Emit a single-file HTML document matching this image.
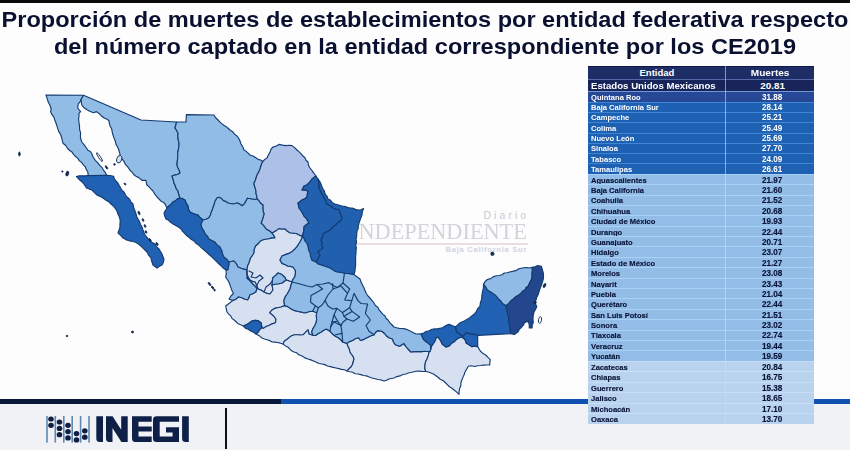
<!DOCTYPE html>
<html lang="es"><head><meta charset="utf-8"><title>Proporción de muertes de establecimientos</title>
<style>
html,body{margin:0;padding:0}
body{width:850px;height:450px;overflow:hidden;background:#fdfdfe;position:relative;font-family:"Liberation Sans",sans-serif}
.topbar{position:absolute;left:0;top:0;width:850px;height:2.6px;background:#0a0a0c}
.title{position:absolute;left:0;top:0;width:850px;color:#0a1030;font-weight:bold;font-size:21.2px;white-space:nowrap}
.title div{position:absolute;left:0;width:850px;text-align:center;transform:scaleX(1.1116);transform-origin:425px 0;line-height:24px}
.map,.logo{position:absolute;left:0;top:0}
.map{filter:blur(0.35px)}
.wm{position:absolute;color:#cfd0d8;white-space:nowrap}
.foot{position:absolute;left:0;top:403.7px;width:850px;height:46.5px;background:#f0f2f6}
.bar1{position:absolute;left:0;top:398.9px;width:282px;height:4.8px;background:#08183a}
.bar2{position:absolute;left:281px;top:398.9px;width:569px;height:4.8px;background:#1151b0}
.vline{position:absolute;left:225.1px;top:407.7px;width:1.6px;height:40.9px;background:#0c0e18}
.tbl{position:absolute;left:0;top:0}
.r{position:absolute;left:588.2px;width:225.79999999999995px;font-weight:bold;white-space:nowrap;overflow:hidden}
.r span{position:absolute;display:block;line-height:10px;height:10px}
.c1{left:2.8px;width:134.7px;transform:scaleX(0.972);transform-origin:0 0}
.c1.ctr{left:0;width:137.5px;text-align:center;transform:none}
.c2{left:139.7px;width:88.29999999999995px;text-align:center;transform:scaleX(0.98)}
.hd .c2{left:138.1px;transform:scaleX(1.06)}
.eum .c1{transform:scaleX(0.975)}
.eum .c2{left:140.2px;transform:none}
.hd{background:linear-gradient(#0c1848 0,#0c1848 1px,#1e2d66 1px);color:#fff}
.eum{background:linear-gradient(#5268a8 0,#5268a8 1px,#17245a 1px);color:#fff}
.d{background:linear-gradient(#3d86d6 0,#3d86d6 1px,#1e60b2 1px);color:#fff}
.d0{background:linear-gradient(#7896d2 0,#7896d2 1px,#264896 1px)}
.m{background:linear-gradient(#a8d2f5 0,#a8d2f5 1.2px,#93bde6 1.2px);color:#0a1338;-webkit-text-stroke:0.15px #0a1338}
.l{background:linear-gradient(#c6defa 0,#c6defa 1.2px,#b9d3ef 1.2px);color:#0a1338;-webkit-text-stroke:0.15px #0a1338}
.vdiv{position:absolute;left:725.0px;top:66px;width:1.4px;height:357.8px;background:rgba(190,225,255,.6)}
</style></head><body>
<div class="wm" style="left:483.5px;top:209.6px;font-size:10.4px;letter-spacing:3.1px;color:#c9cad2">Diario</div>
<div class="wm" style="left:351px;top:218.8px;font-family:'Liberation Serif',serif;font-size:22.8px;transform:scaleX(0.978);transform-origin:0 0;color:#d3d3da">INDEPENDIENTE</div>
<div class="wm" style="left:356px;top:243.2px;width:171.5px;height:1.5px;background:#eddce1"></div>
<div class="wm" style="left:445.5px;top:245px;font-size:7.6px;font-weight:bold;letter-spacing:0.72px;color:#d0d4de">Baja California Sur</div>
<svg class="map" width="850" height="450" viewBox="0 0 850 450">
<g stroke="#143c72" stroke-width="1.15" stroke-linejoin="round">
<polygon fill="#90bce6" points="45.9,95.1 83.6,95.3 81.2,99.2 80.1,101.77 78.3,103.9 77.7,108 80.6,111.6 78.9,113.3 79.05,115.97 78.6,118.6 78.91,122.17 79.5,125.7 79.56,129.33 80.6,132.8 80.47,135.4 80.5,138 81.8,142 84.24,144.93 86.5,148 87.88,150.29 90.4,151.53 91.8,153.8 93.2,157.24 95.3,160.3 97.82,162.8 100,165.6 102.11,167.71 103.6,170.3 105.41,172.54 106.5,175.2 88.3,175.6 87.7,171.5 86.18,169.31 85.3,166.8 83.39,164.77 81.69,162.55 79.4,160.9 77.82,158.42 75.59,156.52 73.6,154.4 71.99,152.07 69.66,150.47 67.7,148.5 65.71,145.53 63,143.2 62.4,141 61.64,137.71 60.6,134.5 58.8,131.6 57.61,128.06 56.5,124.5 54.7,119.8 53.75,116.86 51.82,114.41 50.6,111.6 51.2,109.2 50.05,105.5 48.2,102.1 47.23,98.54"/>
<polygon fill="#2161b3" points="88.3,175.6 106.5,175.2 110.08,175.47 113.6,176.2 114.33,178.84 116,181 117.92,183.1 119.21,185.62 120.7,188 122.04,190.41 124.16,192.28 125.43,194.74 127,197 129.38,199 130.86,201.79 133,204 133.72,207.58 135,211 135.92,213.69 136.61,216.48 138,219 139.52,221.58 140.47,224.43 142,227 142.9,229.7 143.92,232.36 145,235 147.04,237.47 149,240 151.79,242.31 155,244 156.62,246.81 159,249 160.52,251.49 162,254 162.83,256.57 164,259 163.46,262.15 162,265 159.39,266.31 157,268 153,265 151.76,261.57 151,258 148.66,255.23 147,252 144.98,250.02 142.94,248.06 141,246 138.16,243.77 135,242 131.95,241.51 129,240.6 125.87,239.6 123,238 120.66,235.34 118,233 119.05,230.02 120,227 119.91,224.33 120.2,221.67 120,219 119.07,216.31 117.81,213.74 117,211 115.25,208.46 113.37,206.02 111,204 108.62,201.62 105.64,200.04 103,198 100.06,196.37 97,195 94.39,192.61 92,190 89.22,189.08 86.5,188 84.2,184.5 82.35,182.15 80,180.3 76.5,176.5 79.21,175.81 82,175.8 85.16,175.91"/>
<polygon fill="#90bce6" points="83.6,95.3 141,120 176.5,122 175.84,125.02 175,128 176.63,130.42 178,133 177.91,136.38 178.17,139.72 179,143 178.91,146.39 178.42,149.72 177.6,153 177.74,156.01 177.59,159.01 177.17,162 177,165 177.91,167.7 179.24,170.24 180,173 177.52,174.51 174.7,175.08 172,176 173.14,179.46 174,183 175.27,185.7 176.22,188.56 178,191 178.8,194.56 180,198 177.42,198.91 175.43,200.83 173,202 171.09,204.09 169.01,206.01 167,208 165,204 163.16,202.15 160.74,200.97 159,199 156.72,196.54 154.66,193.92 153,191 150.83,188.87 148.77,186.63 146.6,184.5 146,180.3 141.9,180.3 139.21,177.87 136,176.2 133.71,174.52 132.08,172.18 130,170.3 127.92,167.18 125.4,164.4 123.95,161.28 121.8,158.6 120.38,155.76 119.5,152.7 118.78,149.74 117.55,147 116,144.4 115.35,141.16 114.04,138.12 113,135 112.4,132.8 111.7,129.08 110,125.7 109.27,123.09 108.9,120.4 106.61,119.09 104.2,118 101.2,115.7 99.01,113.47 96.5,111.6 93.6,112.7 90.16,111.57 87,109.8 84.03,107.8 81.8,105 81.34,102.12 81.2,99.2"/>
<polygon fill="#90bce6" points="176.5,122 186,122 186.4,114.6 214,115 215.66,117.77 218,120 219.8,121.9 221.74,123.65 223.79,125.25 226.08,126.58 228.07,128.25 230,130 232.62,131.67 234.57,134.11 237,136 238.76,138.45 240.09,141.12 241,144 242.79,146.86 244,150 246.24,151.38 248.11,153.2 250,155 252.9,156.04 255.6,157.45 258,159.4 260.64,160.04 263,161.4 261.63,163.79 260.8,166.39 260,169 258.74,172.12 257,175 256.14,177.72 255.34,180.46 254,183 254.38,185.74 255.3,188.34 256,191 256.03,193.7 256.85,196.31 257,199 254.3,199.5 251.6,199 247.4,198.2 245.88,201.35 244,204.3 242,205.8 239.89,204.18 237.5,203 232.7,204 228,203 225.76,201.58 223.3,200.6 221.47,198.54 219,197.3 217,198 215.02,201.3 214,205 212.98,207.45 212.27,210.01 211.09,212.4 210.5,215 208.7,218 205.94,219.25 203,220 200.25,217.75 198,215 195.22,214.32 192.53,213.36 190,212 188.49,209.17 188,206 186.19,203.15 185,200 182.61,198.72 180,198 178.8,194.56 178,191 176.22,188.56 175.27,185.7 174,183 173.14,179.46 172,176 174.7,175.08 177.52,174.51 180,173 179.24,170.24 177.91,167.7 177,165 177.17,162 177.59,159.01 177.74,156.01 177.6,153 178.42,149.72 178.91,146.39 179,143 178.17,139.72 177.91,136.38 178,133 176.63,130.42 175,128 175.84,125.02"/>
<polygon fill="#adc0e8" points="263,161.4 264.72,159.37 267,158 268.37,154.93 270,152 271.05,149.23 273,147 276.16,146.08 279,144.4 282.48,145.12 286,145.6 289,145.21 292,145.6 294.68,147.6 297,150 299.12,151.88 301.11,153.89 303,156 304.99,157.73 306.04,160.25 308,162 308.49,165.17 310,168 312.03,170.64 314.01,173.32 316,176 312,179 309,183 306.77,184.94 304,186 302,190 305.05,190.17 308,191 307.32,193.97 307,197 304.93,198.76 302.3,199.71 300.24,201.48 298,203 299,208 300.9,210.52 302.6,213.17 304,216 306.03,218.07 307.48,220.56 309,223 306.21,224.64 304,227 303.83,230.55 303,234 302.5,236.4 299.18,235.1 296,233.5 293,233.23 290,233 287.27,231.29 285,229 281.97,229.24 279,228.6 276.58,230.41 274,232 272,233 269.18,230.73 266,229 264.59,226.79 262.9,224.81 261,223 262.29,220.1 263.14,217.05 264,214 263.17,211.06 262.8,208.06 263,205 260.66,203.34 259.04,200.96 257,199 256.85,196.31 256.03,193.7 256,191 255.3,188.34 254.38,185.74 254,183 255.34,180.46 256.14,177.72 257,175 258.74,172.12 260,169 260.8,166.39 261.63,163.79"/>
<polygon fill="#2060ae" points="316,176 318,179 318.61,181.73 319.11,184.48 319.02,187.34 320,190 321.11,192.78 322.99,195.17 324,198 325.87,200.82 327,204 330.21,205.68 333,208 335.9,209.13 339,209.4 339.68,212.31 341,215 342,219 340.28,221.28 337.75,222.75 336,225 333.66,226.26 331.89,228.2 330,230 327.75,231.48 325.31,232.62 323,234 322.39,237.13 321,240 322.19,242.54 321.83,245.46 323,248 320.4,249.87 318,252 320,255 318.47,257.99 317,261 316,262 312,260.5 310.65,256.84 310,253 308.61,249.96 308.07,246.64 307,243.5 305.09,241.25 304,238.5 302.5,236.4 303,234 303.83,230.55 304,227 306.21,224.64 309,223 307.48,220.56 306.03,218.07 304,216 302.6,213.17 300.9,210.52 299,208 298,203 300.24,201.48 302.3,199.71 304.93,198.76 307,197 307.32,193.97 308,191 305.05,190.17 302,190 304,186 306.77,184.94 309,183 312,179"/>
<polygon fill="#2060ae" points="318,179 319.66,181.3 320.89,183.8 321.9,186.42 323,189 324.48,191.38 325.18,194.16 327.08,196.33 328,199 330.64,200.24 332.38,202.74 335,204 338.49,205.03 342,206 344.76,206.29 347.32,207.38 350,208 352.79,208.16 355.33,209.36 358,210 360.94,209.71 363.6,208.4 362.35,211.59 362,215 361,217.67 359.97,220.32 359,223 358.31,225.66 358.18,228.46 357,231 356.73,233.67 356.68,236.38 356,239 356.55,242 355.67,245 356.36,248 356,251 355.93,254 355.55,256.99 355.64,260 355.6,263 355.59,265.68 355.18,268.33 355,271 354,274.6 349,273.6 344.5,273.2 340.76,272.51 337,272 334.45,271.05 332.29,269.41 330,268 327.01,266.96 324,266 321.05,264.85 318,264 316,262 317,261 318.47,257.99 320,255 318,252 320.4,249.87 323,248 321.83,245.46 322.19,242.54 321,240 322.39,237.13 323,234 325.31,232.62 327.75,231.48 330,230 331.89,228.2 333.66,226.26 336,225 337.75,222.75 340.28,221.28 342,219 341,215 339.68,212.31 339,209.4 335.9,209.13 333,208 330.21,205.68 327,204 325.87,200.82 324,198 322.99,195.17 321.11,192.78 320,190 319.02,187.34 319.11,184.48 318.61,181.73"/>
<polygon fill="#2161b3" points="167,208 169.01,206.01 171.09,204.09 173,202 175.43,200.83 177.42,198.91 180,198 182.61,198.72 185,200 186.19,203.15 188,206 188.49,209.17 190,212 192.53,213.36 195.22,214.32 198,215 200.25,217.75 203,220 201.8,222.42 201,225 202.13,228.19 204,231 205.25,233.92 207.56,236.19 209,239 211.97,240.56 215,242 217.16,244.84 220,247 222,251 222.65,254.12 224,257 226.78,259.22 229,262 229.08,264.72 228.4,267.34 228,270 226,270 223.35,268.37 221.35,265.98 219,264 216.64,261.69 214.37,259.3 212,257 209.61,255.16 207.49,253.01 205.25,251 203,249 200.67,247.09 198.54,244.95 195.95,243.34 194,241 191.16,239.23 188.63,237.05 186,235 184.33,233.01 182.44,231.19 181,229 178.46,227.13 175.81,225.43 173,224 170.63,222.39 168.59,220.31 166,219 164.7,216.1 164,213 165.45,210.47"/>
<polygon fill="#90bce6" points="203,220 205.94,219.25 208.7,218 210.5,215 211.09,212.4 212.27,210.01 212.98,207.45 214,205 215.02,201.3 217,198 219,197.3 221.47,198.54 223.3,200.6 225.76,201.58 228,203 232.7,204 237.5,203 239.89,204.18 242,205.8 244,204.3 245.88,201.35 247.4,198.2 251.6,199 254.3,199.5 257,199 259.04,200.96 260.66,203.34 263,205 262.8,208.06 263.17,211.06 264,214 263.14,217.05 262.29,220.1 261,223 262.9,224.81 264.59,226.79 266,229 269.18,230.73 272,233 273.84,235.3 275,238 271.44,238.08 268,239 264.12,239.5 260.5,241 258.27,243.72 255.6,246 254.31,249.39 254,253 252.39,255.56 250.6,258 249.81,260.5 249,263 247.48,266.35 247,270 243.94,269.17 240.92,268.23 238,267 236.32,263.79 234,261 229,262 226.78,259.22 224,257 222.65,254.12 222,251 220,247 217.16,244.84 215,242 211.97,240.56 209,239 207.56,236.19 205.25,233.92 204,231 202.13,228.19 201,225 201.8,222.42"/>
<polygon fill="#8fbbe6" points="229,262 234,261 236.32,263.79 238,267 240.92,268.23 243.94,269.17 247,270 246.63,272.67 247.37,275.33 247,278 249.55,280.45 252,283 254.49,285.51 257,288 256,292 252.98,293.66 249.8,295 249.06,297.63 247.7,300 244.57,299.19 241.64,297.77 238.5,297 235.93,299.25 232.8,300.6 229,299 230.91,295.97 233.5,293.5 232.04,290.79 230.99,287.9 230,285 228.94,282.11 227.32,279.53 225.6,277 226.27,273.53 226,270 228,270 228.4,267.34 229.08,264.72"/>
<polygon fill="#d7e0f1" points="272,233 274,232 276.58,230.41 279,228.6 281.97,229.24 285,229 287.27,231.29 290,233 293,233.23 296,233.5 299.18,235.1 302.5,236.4 301.62,238.91 300.41,241.25 299,243.5 297.18,246.38 295,249 292.17,251.43 289,253.4 285.47,254.61 282,256 280,260 282,263.4 284.91,264.46 287.6,266 290.32,266.41 293,267 295.4,270.5 295.45,273.79 294.7,277 292.95,279.29 292,282 289.03,280.92 286,280 284.9,277.48 283,275.5 280.7,273.85 278,273 275.45,275.66 272.6,278 272.38,281.51 272,285 273,290 270,294 266.85,293.44 264,292 261.17,290.16 258,289 256.74,285.4 255,282 252.37,281.33 250,280 248.1,277.2 247,274 247,270 247.48,266.35 249,263 249.81,260.5 250.6,258 252.39,255.56 254,253 254.31,249.39 255.6,246 258.27,243.72 260.5,241 264.12,239.5 268,239 271.44,238.08 275,238 273.84,235.3"/>
<polygon fill="#d7e0f1" points="247,270 247,274 248.1,277.2 250,280 252.37,281.33 255,282 256.74,285.4 258,289 261.17,290.16 264,292 266.85,293.44 270,294 273,290 272,285 276,284 279.03,283.7 282,283 286,280 289.03,280.92 292,282 290.92,285.48 290,289 287.5,293.5 285.39,296.56 284,300 284.1,302.83 284.7,305.6 281.24,306.99 277.6,307.8 274.61,308.43 272,310 269.8,312.7 273.3,315.6 276,319 275.5,322.7 272.15,323.86 269,325.5 266,326.56 263.4,328.4 262,327.7 261,322.7 257.7,320.6 254.82,320.32 252,321 249.86,322.51 247.7,324 243.4,326 240.54,324.82 237.8,323.4 235.02,320.76 232,318.4 230.75,315.94 228.72,314.09 227,312 226.29,309.01 225.7,306 229,303.5 232.8,300.6 235.93,299.25 238.5,297 241.64,297.77 244.57,299.19 247.7,300 249.06,297.63 249.8,295 252.98,293.66 256,292 257,288 254.49,285.51 252,283 249.55,280.45 247,278 247.37,275.33 246.63,272.67"/>
<polygon fill="#8fbbe6" points="272,285 272.38,281.51 272.6,278 275.45,275.66 278,273 280.7,273.85 283,275.5 284.9,277.48 286,280 282,283 279.03,283.7 276,284"/>
<polygon fill="#2161b3" points="243.4,326 247.7,324 249.86,322.51 252,321 254.82,320.32 257.7,320.6 261,322.7 262,327.7 259.79,329.51 258.4,332 256,334 253.45,332.22 250.6,331 248.34,329.24 245.6,328.4"/>
<polygon fill="#d7e0f1" points="262,327.7 263.4,328.4 266,326.56 269,325.5 272.15,323.86 275.5,322.7 276,319 273.3,315.6 269.8,312.7 272,310 274.61,308.43 277.6,307.8 281.24,306.99 284.7,305.6 287.76,306.63 290.4,308.5 293.77,310.35 297.5,311.3 300.31,311.91 303.11,312.56 306,312.7 309.41,311.55 313,311.3 316.7,312.7 316.31,315.85 316.7,319 316.11,322.64 314.6,326 312.79,328.83 311.7,332 313,335.5 309,334 308,329.8 305.54,332.34 303,334.8 300.23,334.98 297.47,334.74 294.7,334.8 291.64,335.78 289,337.6 286.9,339.5 284.5,341 283,344 280.31,343.18 277.59,342.51 274.82,342.13 272,342 269.66,340.6 267.11,339.73 264.49,339.03 262,338 259.23,335.66 256,334 258.4,332 259.79,329.51"/>
<polygon fill="#d7e0f1" points="283,344 284.5,341 286.9,339.5 289,337.6 291.64,335.78 294.7,334.8 297.47,334.74 300.23,334.98 303,334.8 305.54,332.34 308,329.8 309,334 313,335.5 315.6,335.5 318.34,333.57 321.3,332 323.69,330.32 326.3,329 330,331.3 333.4,334.8 335.76,336.5 338.4,337.7 340.71,339.69 342.7,342 347,343.4 348,346.27 349.33,349.02 350,352 351.48,354.25 353.13,356.4 354,359 353.26,361.76 352.5,364.52 351,367 348.82,368.82 347,371 344.38,369.78 341.54,369.34 338.78,368.65 336,368 333.16,367.34 330.34,366.62 327.5,365.95 324.85,364.63 322,364 319.02,363.5 316.33,362.19 313.6,361.01 310.84,359.89 308,359 305.5,358.16 303.34,356.66 301.03,355.43 298.51,354.65 296.53,352.78 294,352 291.52,350.79 289.62,348.78 287.6,346.92 285.17,345.65"/>
<polygon fill="#d7e0f1" points="347,371 348.82,368.82 351,367 352.5,364.52 353.26,361.76 354,359 353.13,356.4 351.48,354.25 350,352 349.33,349.02 348,346.27 347,343.4 349.61,341.59 352.6,340.5 355.24,338.68 358.3,337.7 360.5,340.5 363.81,339.34 366.9,337.7 370.35,336 374,334.8 375.47,332.46 377.5,330.6 381.8,331.3 384.62,333.48 386.8,336.3 389.49,337.99 392.5,339 393.53,342.08 395.3,344.8 399.6,346.2 403.8,343.4 405.75,346.31 408,349 411,352 413.71,351.69 416.42,351.57 419.14,351.56 421.86,351.67 424.56,351.27 427.28,351.51 430,351.5 429,352.3 428.25,355.72 427,359 425.52,361.84 425,365 424.83,368.31 425.7,371.5 421.84,371.34 418,371 414.93,371.46 411.95,372.29 408.87,372.74 406,374 402.84,374.52 399.97,375.9 396.86,376.57 394,378 391.43,378.5 388.84,378.98 386.5,380.25 384,381 381.08,379.93 378,379.5 375.01,378.72 372,378 369.24,377.07 366.55,375.87 363.64,375.45 360.86,374.6 358,374 355.12,373.74 352.57,372.23 349.74,371.8"/>
<polygon fill="#d7e0f1" points="425.7,371.5 424.83,368.31 425,365 425.52,361.84 427,359 428.25,355.72 429,352.3 430,351.5 430.8,349 431,347 432.9,344.2 435.3,340.5 436.2,337.2 438.1,337.2 440.5,340.5 442.4,344.2 446.1,347 449,346.1 451.47,343.35 454.6,341.4 456.7,339.19 459.3,337.6 462.2,337.2 465,339.5 466.4,343.3 469.08,344.82 471.6,346.6 474.65,346.17 477.7,346.6 480.3,351 482.78,353.3 485.7,355 487.95,357.4 490.3,359.7 489.86,362.33 489.7,365 486.69,365.04 483.69,365.15 480.7,365.54 477.7,365.7 474.6,366.45 471.41,365.77 468.3,366.3 466.3,369.7 464.9,372.24 464,375 462.81,377.63 461.7,380.3 460.86,382.92 460.83,385.75 459.7,388.3 459.09,391.27 459,394.3 456.43,391.9 453.7,389.7 451.7,388.02 449.36,386.75 447.53,384.88 445.7,383 443.23,380.74 440.22,379.2 437.7,377 435.6,375.45 433.47,373.93 431,373 428.42,371.99"/>
<polygon fill="#8fbbe6" points="292,282 292.95,279.29 294.7,277 295.45,273.79 295.4,270.5 293,267 290.32,266.41 287.6,266 284.91,264.46 282,263.4 280,260 282,256 285.47,254.61 289,253.4 292.17,251.43 295,249 297.18,246.38 299,243.5 300.41,241.25 301.62,238.91 302.5,236.4 304,238.5 305.09,241.25 307,243.5 308.07,246.64 308.61,249.96 310,253 310.65,256.84 312,260.5 316,262 318,264 321.05,264.85 324,266 327.01,266.96 330,268 332.29,269.41 334.45,271.05 337,272 340.76,272.51 344.5,273.2 349,273.6 354,274.6 356.98,276.83 360,279 361.08,282.11 362.51,285.07 364,288 365.12,290.77 366.29,293.52 368,296 370.09,298.25 372.15,300.54 374,303 375.33,305.58 377.8,307.26 379.06,309.9 381,312 382.63,314.1 384.88,315.67 385.97,318.24 388,320 389.67,322.61 391.89,324.76 394,327 396.62,327.75 399.27,328.34 402,328.5 405.1,328.87 408,330 410.65,331.36 413.33,332.67 416,334 421.1,333.9 423,338.6 424.91,340.78 427.3,342.4 430.6,345.2 430.8,349 430,351.5 427.28,351.51 424.56,351.27 421.86,351.67 419.14,351.56 416.42,351.57 413.71,351.69 411,352 408,349 405.75,346.31 403.8,343.4 399.6,346.2 395.3,344.8 393.53,342.08 392.5,339 389.49,337.99 386.8,336.3 384.62,333.48 381.8,331.3 377.5,330.6 375.47,332.46 374,334.8 370.35,336 366.9,337.7 363.81,339.34 360.5,340.5 358.3,337.7 355.24,338.68 352.6,340.5 349.61,341.59 347,343.4 342.7,342 340.71,339.69 338.4,337.7 335.76,336.5 333.4,334.8 330,331.3 326.3,329 323.69,330.32 321.3,332 318.34,333.57 315.6,335.5 313,335.5 311.7,332 312.79,328.83 314.6,326 316.11,322.64 316.7,319 316.31,315.85 316.7,312.7 313,311.3 309.41,311.55 306,312.7 303.11,312.56 300.31,311.91 297.5,311.3 293.77,310.35 290.4,308.5 287.76,306.63 284.7,305.6 284.1,302.83 284,300 285.39,296.56 287.5,293.5 290,289 290.92,285.48"/>
<polygon fill="#2161b3" points="421.1,333.9 423.7,333 426,331.5 429.13,330.69 432,329.2 434.61,328.92 437.26,328.88 439.83,328.27 442.4,327.7 446.1,325.4 449,324.4 452.7,325.8 455.6,326.8 456.5,331.5 459.3,333.9 463.1,336.2 465.9,332.5 468.7,333.41 471.6,333.9 474.72,334.31 477.7,335.3 477.7,346.6 474.65,346.17 471.6,346.6 469.08,344.82 466.4,343.3 465,339.5 462.2,337.2 459.3,337.6 456.7,339.19 454.6,341.4 451.47,343.35 449,346.1 446.1,347 442.4,344.2 440.5,340.5 438.1,337.2 436.2,337.2 435.3,340.5 432.9,344.2 431,347 430.8,349 430.6,345.2 427.3,342.4 424.91,340.78 423,338.6"/>
<polygon fill="#2161b3" points="455.6,326.8 459.3,323.3 461.79,322.05 464.39,321.01 466.8,319.6 469.48,317.97 471.88,315.97 474.3,314 476.29,311.59 477.66,308.72 479.9,306.5 480.42,302.66 481.7,299 481.88,295.27 482.6,291.6 483.37,287.89 483.6,284.1 485.63,286.78 487.3,289.7 490.06,291.61 492.9,293.4 495.15,294.89 496.98,296.79 498.5,299 500.55,300.69 502.1,302.87 504.1,304.6 506,305.6 506.39,308.44 507.01,311.24 507.8,314 508.53,317.06 508.78,320.2 509.3,323.3 509.77,326.73 510.2,330.16 510.6,333.6 478,335.4 477.7,335.3 474.72,334.31 471.6,333.9 468.7,333.41 465.9,332.5 463.1,336.2 459.3,333.9 456.5,331.5"/>
<polygon fill="#8fbbe6" points="483.6,284.1 485.12,281.54 487.3,279.5 490.56,278.63 493.37,276.66 496.6,275.7 499.36,275.47 501.97,274.68 504.32,272.97 507.07,272.7 509.7,272 512.61,271.41 515.46,270.64 518.08,269.17 520.9,268.3 523.68,267.8 526.47,267.48 529.34,268.04 532.1,267.3 532.42,270.43 532.01,273.57 532.1,276.7 531.23,279.95 529.61,282.89 528.4,286 526.18,287.5 524.93,289.99 522.53,291.3 520.9,293.4 518.39,295.26 515.65,296.79 513.4,299 510.78,301.03 508.66,303.62 506,305.6 504.1,304.6 502.1,302.87 500.55,300.69 498.5,299 496.98,296.79 495.15,294.89 492.9,293.4 490.06,291.61 487.3,289.7 485.63,286.78"/>
<polygon fill="#24468c" points="532.1,267.3 535.03,266.82 537.7,265.5 541.4,266.4 542.36,269.65 543.3,272.9 543.52,276.08 543.24,279.22 542.4,282.3 541.48,284.77 540.58,287.25 539.6,289.7 538.87,292.28 538.1,294.84 536.8,297.2 536.01,300.06 534.9,302.8 536.8,306.5 535.58,309.34 534,312 533.13,315.75 533,319.6 533.24,322.46 532.13,325.17 532.1,328 529.3,328 529.22,324.65 528.4,321.4 524.6,322.4 523.56,324.92 521.8,327 519.58,329.06 518.1,331.7 514.4,334.5 510.6,333.6 510.2,330.16 509.77,326.73 509.3,323.3 508.78,320.2 508.53,317.06 507.8,314 507.01,311.24 506.39,308.44 506,305.6 508.66,303.62 510.78,301.03 513.4,299 515.65,296.79 518.39,295.26 520.9,293.4 522.53,291.3 524.93,289.99 526.18,287.5 528.4,286 529.61,282.89 531.23,279.95 532.1,276.7 532.01,273.57 532.42,270.43"/>
</g>
<g fill="none" stroke="#143c72" stroke-width="1.15" stroke-linejoin="round" stroke-linecap="round">
<polyline points="292,282 300,284 307,286 312,287 317,284.5 323,284 329,282.6 333,285.5 337.4,287.6 343,283 344.5,273.2"/>
<polyline points="317,284.5 322.6,289 311,295.6 310.5,302 315.5,306 312.7,311"/>
<polyline points="332.6,283.5 333,289 328,295 325,300.6 322,305 318.4,307.7 315.5,306"/>
<polyline points="318.4,307.7 316.7,312.7"/>
<polyline points="333,289 341,286 347.5,293.4 344.7,300 351.8,300.6 349.7,307.7 342.5,312.6 336.9,308.4 332.6,309 328,306 325,300.6"/>
<polyline points="343,283 349.7,289 347.5,293.4"/>
<polyline points="351.8,300.6 354,293.4 358,300.6 361,303.5 367.6,304 365.4,313.5 370.4,320 366,325.6 369,331.3 374,334.8"/>
<polyline points="344,316.3 352,311.4 359.7,317 353.3,321.3 347,319 344,316.3"/>
<polyline points="334,315 337.7,321.3 332,322 334,315"/>
<polyline points="330.6,327 334,322 341,325.6 342,333.4 335.6,334.8"/>
<polyline points="330.6,327 330,331.3"/>
<polyline points="342.5,312.6 344,316.3"/>
<polyline points="349.7,307.7 352,311.4"/>
<polyline points="347,319 343,322 341,325.6"/>
<polyline points="342,333.4 342.7,342"/>
<polyline points="336.9,308.4 334,315"/>
<polyline points="332,322 330.6,327"/>
<polyline points="337.7,321.3 341,325.6"/>
<polyline points="249,271 253,273 251,277 256,278 260,275 263,278 259,281 257,285"/>
<polyline points="264,292 266,287 270,284 272,281"/>
</g>
<g stroke="#0e2a55" stroke-width="0.85">
<ellipse cx="119.2" cy="159.2" rx="2.5" ry="3.9" fill="#cfe0f3" transform="rotate(20 119.2 159.2)"/>
<ellipse cx="99.5" cy="157.1" rx="1.0" ry="5.1" fill="#e8f0fa" transform="rotate(-34 99.5 157.1)"/>
<ellipse cx="106.5" cy="167.4" rx="0.7" ry="1.9" fill="#1a2440" transform="rotate(-32 106.5 167.4)"/>
<ellipse cx="114.5" cy="164.4" rx="0.8" ry="0.8" fill="#1a2440" transform="rotate(0 114.5 164.4)"/>
<ellipse cx="67.3" cy="173.6" rx="1.3" ry="2.5" fill="#1a2440" transform="rotate(15 67.3 173.6)"/>
<ellipse cx="19.4" cy="154" rx="0.8" ry="2.0" fill="#1a2440" transform="rotate(0 19.4 154)"/>
<ellipse cx="540" cy="320" rx="1.5" ry="3.4" fill="#ffffff" transform="rotate(10 540 320)"/>
<ellipse cx="544.5" cy="285.5" rx="1.0" ry="2.2" fill="#1a2440" transform="rotate(25 544.5 285.5)"/>
<ellipse cx="535" cy="302.5" rx="1.3" ry="1.3" fill="#1a2440" transform="rotate(0 535 302.5)"/>
<ellipse cx="492.4" cy="253.8" rx="1.6" ry="1.8" fill="#1a2440" transform="rotate(0 492.4 253.8)"/>
<ellipse cx="139" cy="213" rx="0.8" ry="1.8" fill="#1a2440" transform="rotate(-20 139 213)"/>
<ellipse cx="143" cy="220" rx="0.7" ry="1.4" fill="#1a2440" transform="rotate(-20 143 220)"/>
<ellipse cx="145" cy="226" rx="0.7" ry="1.4" fill="#1a2440" transform="rotate(-20 145 226)"/>
<ellipse cx="146" cy="232" rx="0.7" ry="1.3" fill="#1a2440" transform="rotate(-20 146 232)"/>
<ellipse cx="150" cy="240" rx="0.8" ry="1.6" fill="#1a2440" transform="rotate(-30 150 240)"/>
<ellipse cx="157" cy="244" rx="0.8" ry="1.6" fill="#1a2440" transform="rotate(-30 157 244)"/>
<ellipse cx="209.5" cy="284" rx="0.8" ry="1.8" fill="#1a2440" transform="rotate(-40 209.5 284)"/>
<ellipse cx="212.5" cy="287.5" rx="0.8" ry="1.5" fill="#1a2440" transform="rotate(-40 212.5 287.5)"/>
<ellipse cx="214.5" cy="290" rx="0.7" ry="1.0" fill="#1a2440" transform="rotate(-40 214.5 290)"/>
<ellipse cx="125" cy="184" rx="0.6" ry="1.2" fill="#1a2440" transform="rotate(-30 125 184)"/>
<ellipse cx="62.4" cy="171.5" rx="0.6" ry="0.7" fill="#1a2440" transform="rotate(0 62.4 171.5)"/>
<ellipse cx="67" cy="336" rx="0.8" ry="0.8" fill="#1a2440" transform="rotate(0 67 336)"/>
<ellipse cx="132.5" cy="332" rx="1.1" ry="0.9" fill="#1a2440" transform="rotate(0 132.5 332)"/>
</g>
</svg>
<div class="topbar"></div>
<div class="title"><div style="top:8.3px">Proporción de muertes de establecimientos por entidad federativa respecto</div><div style="top:34.6px">del número captado en la entidad correspondiente por los CE2019</div></div>
<div class="foot"></div><div class="bar1"></div><div class="bar2"></div><div class="vline"></div>
<svg class="logo" width="850" height="450" viewBox="0 0 850 450">
<rect x="46.2" y="416" width="1.6" height="26.6" fill="#5f88b2"/>
<rect x="54.5" y="416" width="1.6" height="26.6" fill="#5f88b2"/>
<rect x="63.0" y="416" width="1.6" height="26.6" fill="#5f88b2"/>
<rect x="71.4" y="416" width="1.6" height="26.6" fill="#5f88b2"/>
<rect x="79.8" y="416" width="1.6" height="26.6" fill="#5f88b2"/>
<rect x="88.2" y="416" width="1.6" height="26.6" fill="#5f88b2"/>
<ellipse cx="51" cy="419" rx="2.8" ry="2.6" fill="#111e44"/>
<ellipse cx="51" cy="425.3" rx="2.8" ry="2.6" fill="#111e44"/>
<ellipse cx="59.5" cy="422" rx="2.8" ry="2.6" fill="#111e44"/>
<ellipse cx="59.5" cy="428.4" rx="2.8" ry="2.6" fill="#111e44"/>
<ellipse cx="59.5" cy="434.7" rx="2.8" ry="2.6" fill="#111e44"/>
<ellipse cx="68" cy="425.3" rx="2.8" ry="2.6" fill="#111e44"/>
<ellipse cx="68" cy="431.6" rx="2.8" ry="2.6" fill="#111e44"/>
<ellipse cx="68" cy="437.9" rx="2.8" ry="2.6" fill="#111e44"/>
<ellipse cx="76.5" cy="433.6" rx="2.8" ry="2.6" fill="#111e44"/>
<ellipse cx="76.5" cy="439.9" rx="2.8" ry="2.6" fill="#111e44"/>
<ellipse cx="84.8" cy="430.8" rx="2.8" ry="2.6" fill="#111e44"/>
<ellipse cx="84.8" cy="437.2" rx="2.8" ry="2.6" fill="#111e44"/>
<path fill="#0f2048" d="M96.3,416.2 h6.7 v25.8 h-3.2 q-3.5,0 -3.5,-3.5 z"/>
<path fill="#0f2048" d="M106,416.2 h6.6 l8.6,13.5 v-13.5 h6.5 v25.8 h-6.3 l-8.9,-14 v14 h-3.0 q-3.5,0 -3.5,-3.5 z"/>
<path fill="#0f2048" d="M132,416.2 h19.7 v5.6 h-13.2 v4.6 h13.2 v5.2 h-13.2 v4.8 h13.2 v5.6 h-16.2 q-3.5,0 -3.5,-3.5 z"/>
<path fill="#0f2048" d="M156.5,416.2 h22.5 v5.6 h-19.3 v14.6 h12.9 v-4.0 h-6.6 v-5.2 h13 v14.8 h-22.5 q-3.5,0 -3.5,-3.5 v-18.8 q0,-3.5 3.5,-3.5 z"/>
<path fill="#0f2048" d="M182.1,416.2 h6.7 v25.8 h-3.2 q-3.5,0 -3.5,-3.5 z"/>
</svg>
<div class="tbl">
<div class="r hd" style="top:65.9px;height:12.70px"><span class="c1 ctr" style="top:2.51px;font-size:9.5px">Entidad</span><span class="c2" style="top:2.51px;font-size:9.5px">Muertes</span></div>
<div class="r eum" style="top:78.6px;height:12.70px"><span class="c1" style="top:2.67px;font-size:9.9px">Estados Unidos Mexicanos</span><span class="c2" style="top:2.67px;font-size:9.9px">20.81</span></div>
<div class="r d d0" style="top:91.30px;height:10.36px"><span class="c1" style="top:1.70px;font-size:7.8px">Quintana Roo</span><span class="c2" style="top:0.52px;font-size:8.3px">31.88</span></div>
<div class="r d" style="top:101.61px;height:10.36px"><span class="c1" style="top:1.38px;font-size:7.8px">Baja California Sur</span><span class="c2" style="top:0.21px;font-size:8.3px">28.14</span></div>
<div class="r d" style="top:111.92px;height:10.36px"><span class="c1" style="top:1.07px;font-size:7.8px">Campeche</span><span class="c2" style="top:-0.10px;font-size:8.3px">25.21</span></div>
<div class="r d" style="top:122.24px;height:10.36px"><span class="c1" style="top:1.76px;font-size:7.8px">Colima</span><span class="c2" style="top:0.59px;font-size:8.3px">25.49</span></div>
<div class="r d" style="top:132.55px;height:10.36px"><span class="c1" style="top:1.45px;font-size:7.8px">Nuevo León</span><span class="c2" style="top:0.27px;font-size:8.3px">25.69</span></div>
<div class="r d" style="top:142.86px;height:10.36px"><span class="c1" style="top:1.13px;font-size:7.8px">Sinaloa</span><span class="c2" style="top:-0.04px;font-size:8.3px">27.70</span></div>
<div class="r d" style="top:153.18px;height:10.36px"><span class="c1" style="top:1.82px;font-size:7.8px">Tabasco</span><span class="c2" style="top:0.65px;font-size:8.3px">24.09</span></div>
<div class="r d" style="top:163.49px;height:10.36px"><span class="c1" style="top:1.51px;font-size:7.8px">Tamaulipas</span><span class="c2" style="top:0.34px;font-size:8.3px">26.61</span></div>
<div class="r m" style="top:173.80px;height:10.43px"><span class="c1" style="top:2.20px;font-size:7.8px">Aguascalientes</span><span class="c2" style="top:1.02px;font-size:8.3px">21.97</span></div>
<div class="r m" style="top:184.18px;height:10.43px"><span class="c1" style="top:1.81px;font-size:7.8px">Baja California</span><span class="c2" style="top:0.64px;font-size:8.3px">21.60</span></div>
<div class="r m" style="top:194.57px;height:10.43px"><span class="c1" style="top:1.43px;font-size:7.8px">Coahuila</span><span class="c2" style="top:0.26px;font-size:8.3px">21.52</span></div>
<div class="r m" style="top:204.95px;height:10.43px"><span class="c1" style="top:2.05px;font-size:7.8px">Chihuahua</span><span class="c2" style="top:0.87px;font-size:8.3px">20.68</span></div>
<div class="r m" style="top:215.33px;height:10.43px"><span class="c1" style="top:1.66px;font-size:7.8px">Ciudad de México</span><span class="c2" style="top:0.49px;font-size:8.3px">19.93</span></div>
<div class="r m" style="top:225.72px;height:10.43px"><span class="c1" style="top:2.28px;font-size:7.8px">Durango</span><span class="c2" style="top:1.11px;font-size:8.3px">22.44</span></div>
<div class="r m" style="top:236.10px;height:10.43px"><span class="c1" style="top:1.90px;font-size:7.8px">Guanajuato</span><span class="c2" style="top:0.72px;font-size:8.3px">20.71</span></div>
<div class="r m" style="top:246.48px;height:10.43px"><span class="c1" style="top:1.51px;font-size:7.8px">Hidalgo</span><span class="c2" style="top:0.34px;font-size:8.3px">23.07</span></div>
<div class="r m" style="top:256.87px;height:10.43px"><span class="c1" style="top:2.13px;font-size:7.8px">Estado de México</span><span class="c2" style="top:0.96px;font-size:8.3px">21.27</span></div>
<div class="r m" style="top:267.25px;height:10.43px"><span class="c1" style="top:1.75px;font-size:7.8px">Morelos</span><span class="c2" style="top:0.57px;font-size:8.3px">23.08</span></div>
<div class="r m" style="top:277.63px;height:10.43px"><span class="c1" style="top:2.36px;font-size:7.8px">Nayarit</span><span class="c2" style="top:1.19px;font-size:8.3px">23.43</span></div>
<div class="r m" style="top:288.02px;height:10.43px"><span class="c1" style="top:1.98px;font-size:7.8px">Puebla</span><span class="c2" style="top:0.81px;font-size:8.3px">21.04</span></div>
<div class="r m" style="top:298.40px;height:10.43px"><span class="c1" style="top:1.60px;font-size:7.8px">Querétaro</span><span class="c2" style="top:0.42px;font-size:8.3px">22.44</span></div>
<div class="r m" style="top:308.78px;height:10.43px"><span class="c1" style="top:2.21px;font-size:7.8px">San Luis Potosí</span><span class="c2" style="top:1.04px;font-size:8.3px">21.51</span></div>
<div class="r m" style="top:319.17px;height:10.43px"><span class="c1" style="top:1.83px;font-size:7.8px">Sonora</span><span class="c2" style="top:0.66px;font-size:8.3px">23.02</span></div>
<div class="r m" style="top:329.55px;height:10.43px"><span class="c1" style="top:1.45px;font-size:7.8px">Tlaxcala</span><span class="c2" style="top:0.27px;font-size:8.3px">22.74</span></div>
<div class="r m" style="top:339.93px;height:10.43px"><span class="c1" style="top:2.06px;font-size:7.8px">Veracruz</span><span class="c2" style="top:0.89px;font-size:8.3px">19.44</span></div>
<div class="r m" style="top:350.32px;height:10.43px"><span class="c1" style="top:1.68px;font-size:7.8px">Yucatán</span><span class="c2" style="top:0.51px;font-size:8.3px">19.59</span></div>
<div class="r l" style="top:360.70px;height:10.57px"><span class="c1" style="top:2.30px;font-size:7.8px">Zacatecas</span><span class="c2" style="top:1.12px;font-size:8.3px">20.84</span></div>
<div class="r l" style="top:371.22px;height:10.57px"><span class="c1" style="top:1.78px;font-size:7.8px">Chiapas</span><span class="c2" style="top:0.61px;font-size:8.3px">16.75</span></div>
<div class="r l" style="top:381.73px;height:10.57px"><span class="c1" style="top:2.26px;font-size:7.8px">Guerrero</span><span class="c2" style="top:1.09px;font-size:8.3px">15.38</span></div>
<div class="r l" style="top:392.25px;height:10.57px"><span class="c1" style="top:1.75px;font-size:7.8px">Jalisco</span><span class="c2" style="top:0.57px;font-size:8.3px">18.65</span></div>
<div class="r l" style="top:402.77px;height:10.57px"><span class="c1" style="top:2.23px;font-size:7.8px">Michoacán</span><span class="c2" style="top:1.06px;font-size:8.3px">17.10</span></div>
<div class="r l" style="top:413.28px;height:10.57px"><span class="c1" style="top:1.71px;font-size:7.8px">Oaxaca</span><span class="c2" style="top:0.54px;font-size:8.3px">13.70</span></div>
<div class="vdiv"></div>
</div>
</body></html>
